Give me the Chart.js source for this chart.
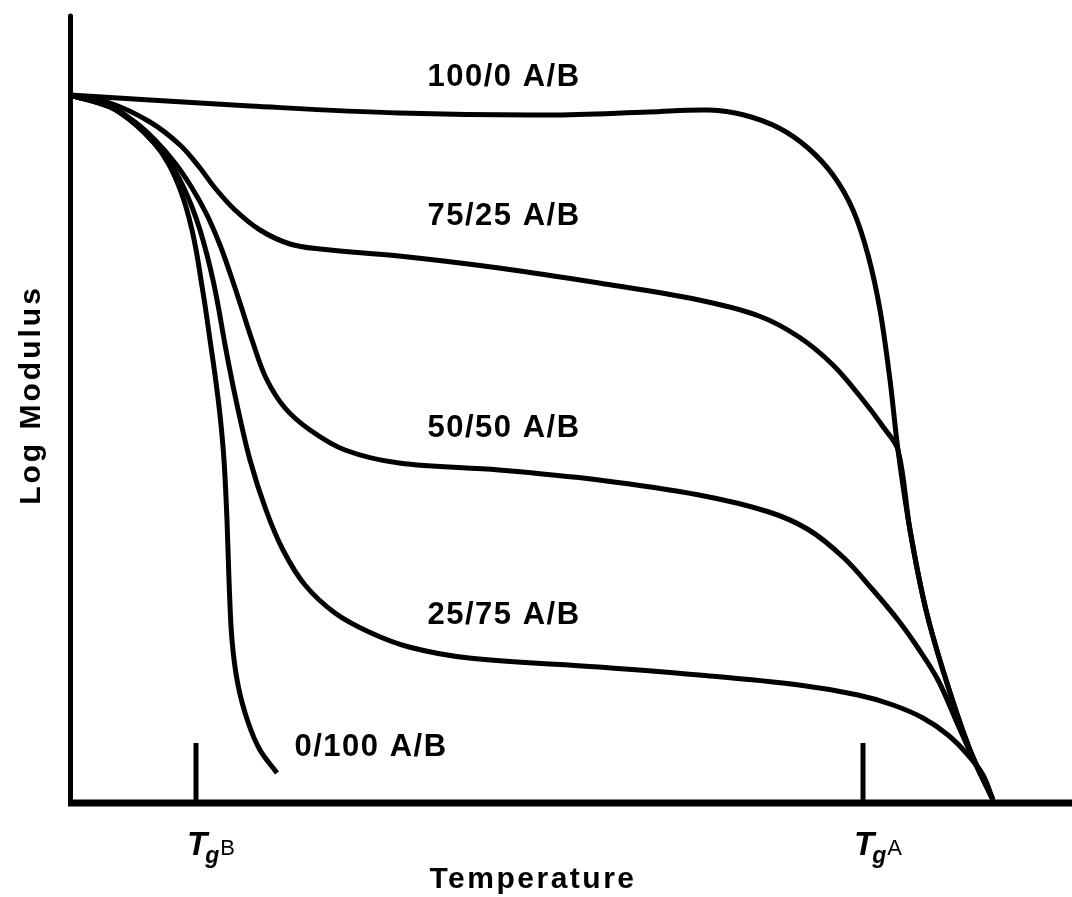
<!DOCTYPE html>
<html>
<head>
<meta charset="utf-8">
<title>Log Modulus vs Temperature</title>
<script src="https://cdn.jsdelivr.net/npm/chart.js@4.4.1/dist/chart.umd.min.js"></script>
<style>
  html, body { margin: 0; padding: 0; background: #fff; }
  #wrap { width: 1072px; height: 897px; position: relative; }
</style>
</head>
<body>
<div id="wrap"><canvas id="chart"></canvas></div>
<script>
/* Schematic: modulus vs temperature for A/B blends (arbitrary units) */

const seriesNames = ['100/0 A/B', '75/25 A/B', '50/50 A/B', '25/75 A/B', '0/100 A/B'];

// temperature values (x) and log modulus values (y)
const t100 = [0, 8.0, 18.0, 32.9, 47.9, 57.9, 63.9, 67.4, 70.9, 73.8, 76.3, 78.3, 79.8, 81.0, 82.0, 82.8, 84.0, 85.6, 87.6, 90.0, 92.3];
const m100 = [70.8, 70.3, 69.7, 69.0, 68.8, 69.1, 69.3, 68.8, 67.5, 65.5, 62.8, 59.3, 54.8, 49.3, 42.3, 35.3, 27.3, 19.3, 12.3, 5.3, 0.3];

const t75 = [0, 4.0, 8.0, 11.0, 13.0, 14.5, 16.5, 19.0, 22.0, 25.0, 32.9, 42.9, 52.9, 62.9, 68.9, 72.9, 76.3, 79.3, 81.4, 82.8, 84.0, 85.6, 87.6, 90.0, 92.3];
const m75 = [70.8, 70.0, 68.1, 65.8, 63.5, 61.5, 59.3, 57.3, 55.9, 55.4, 54.7, 53.5, 52.0, 50.3, 48.7, 46.6, 43.8, 40.3, 37.5, 35.3, 27.3, 19.3, 12.3, 5.3, 0.3];

const t50 = [0, 4.0, 6.5, 8.5, 10.5, 12.2, 13.7, 15.0, 16.0, 17.0, 18.2, 19.6, 21.5, 24.0, 27.5, 32.9, 42.9, 52.9, 62.9, 69.9, 73.9, 77.4, 80.3, 82.8, 84.8, 86.8, 88.8, 90.6, 92.3];
const m50 = [70.8, 69.7, 68.1, 66.3, 64.0, 61.5, 58.8, 55.8, 53.0, 50.0, 46.3, 42.5, 39.5, 37.3, 35.3, 34.0, 33.3, 32.3, 30.8, 29.1, 27.3, 24.5, 21.3, 18.3, 15.5, 12.3, 7.8, 3.8, 0.3];

const t25 = [0, 4.0, 6.5, 8.5, 10.0, 11.2, 12.2, 13.0, 13.7, 14.3, 14.8, 15.6, 16.6, 18.0, 19.6, 21.3, 23.5, 26.5, 29.9, 33.9, 39.9, 52.9, 62.9, 72.9, 78.8, 82.3, 85.3, 87.8, 89.8, 91.3, 92.3];
const m25 = [70.8, 69.6, 67.9, 65.9, 64.0, 61.9, 59.6, 57.3, 54.8, 52.3, 49.8, 45.3, 40.3, 34.3, 29.3, 25.3, 21.8, 19.0, 17.1, 15.6, 14.5, 13.6, 12.8, 11.8, 10.8, 9.8, 8.5, 6.8, 4.8, 2.8, 0.3];

const t0 = [0, 4.0, 6.5, 8.5, 9.8, 10.8, 11.6, 12.2, 12.7, 13.1, 13.5, 14.0, 14.5, 15.0, 15.4, 15.7, 15.9, 16.2, 16.8, 17.8, 19.0, 20.7];
const m0 = [70.8, 69.6, 67.9, 65.9, 64.0, 61.9, 59.6, 57.3, 54.8, 52.3, 49.8, 46.3, 42.8, 38.8, 34.3, 28.3, 22.3, 16.3, 11.8, 8.1, 5.3, 3.0];

// glass transition markers on the temperature axis
const tgValues = [12.6, 79.3];
const tgLabels = ['B', 'A'];

// where each curve label sits (temperature, log modulus)
const labelT = [43.4, 43.4, 43.4, 43.4, 30.1];
const labelM = [72.6, 58.7, 37.5, 18.8, 5.6];

const allT = [t100, t75, t50, t25, t0];
const allM = [m100, m75, m50, m25, m0];

const FONT = "'Liberation Sans', Arial, sans-serif";

const axesPlugin = {
  id: 'axesPlugin',
  afterDatasetsDraw(chart) {
    const { ctx, chartArea: a, scales: { x, y } } = chart;
    ctx.save();
    ctx.strokeStyle = '#000';
    ctx.fillStyle = '#000';
    ctx.lineCap = 'round';
    // y axis
    ctx.lineWidth = 5;
    ctx.beginPath();
    ctx.moveTo(a.left + 0.5, 16);
    ctx.lineTo(a.left + 0.5, a.bottom);
    ctx.stroke();
    // x axis
    ctx.lineCap = 'butt';
    ctx.lineWidth = 7;
    ctx.beginPath();
    ctx.moveTo(a.left - 2, a.bottom);
    ctx.lineTo(a.right, a.bottom);
    ctx.stroke();
    // Tg ticks and labels
    tgValues.forEach((v, i) => {
      const px = x.getPixelForValue(v);
      ctx.lineWidth = 5;
      ctx.beginPath();
      ctx.moveTo(px, a.bottom - 60);
      ctx.lineTo(px, a.bottom);
      ctx.stroke();
      ctx.textAlign = 'left';
      ctx.textBaseline = 'alphabetic';
      let cx = px - 9;
      ctx.font = `italic bold 33px ${FONT}`;
      ctx.fillText('T', cx, 855);
      cx += ctx.measureText('T').width - 2;
      ctx.font = `italic bold 23px ${FONT}`;
      ctx.fillText('g', cx, 863);
      cx += ctx.measureText('g').width + 1;
      ctx.font = `22px ${FONT}`;
      ctx.fillText(tgLabels[i], cx, 855);
    });
    // curve labels
    ctx.font = `bold 31px ${FONT}`;
    ctx.letterSpacing = '1.5px';
    ctx.textAlign = 'center';
    ctx.textBaseline = 'middle';
    seriesNames.forEach((name, i) => {
      ctx.fillText(name, x.getPixelForValue(labelT[i]), y.getPixelForValue(labelM[i]));
    });
    // axis titles
    ctx.font = `bold 30px ${FONT}`;
    ctx.letterSpacing = '2.5px';
    ctx.textBaseline = 'alphabetic';
    ctx.fillText('Temperature', 533, 888);
    ctx.letterSpacing = '3px';
    ctx.translate(40, 395);
    ctx.rotate(-Math.PI / 2);
    ctx.fillText('Log Modulus', 0, 0);
    ctx.restore();
  }
};

new Chart(document.getElementById('chart'), {
  type: 'line',
  data: {
    datasets: seriesNames.map((name, i) => ({
      label: name,
      data: allT[i].map((t, j) => ({ x: t, y: allM[i][j] })),
      borderColor: '#000',
      borderWidth: 5,
      pointRadius: 0,
      tension: 0.35,
      fill: false,
      clip: false
    }))
  },
  options: {
    responsive: true,
    maintainAspectRatio: false,
    animation: false,
    layout: { padding: { left: 70, right: 0, top: 13, bottom: 94 } },
    plugins: { legend: { display: false }, tooltip: { enabled: false } },
    scales: {
      x: { type: 'linear', min: 0, max: 100.2, display: false },
      y: { type: 'linear', min: 0, max: 79, display: false }
    }
  },
  plugins: [axesPlugin]
});
</script>
</body>
</html>
